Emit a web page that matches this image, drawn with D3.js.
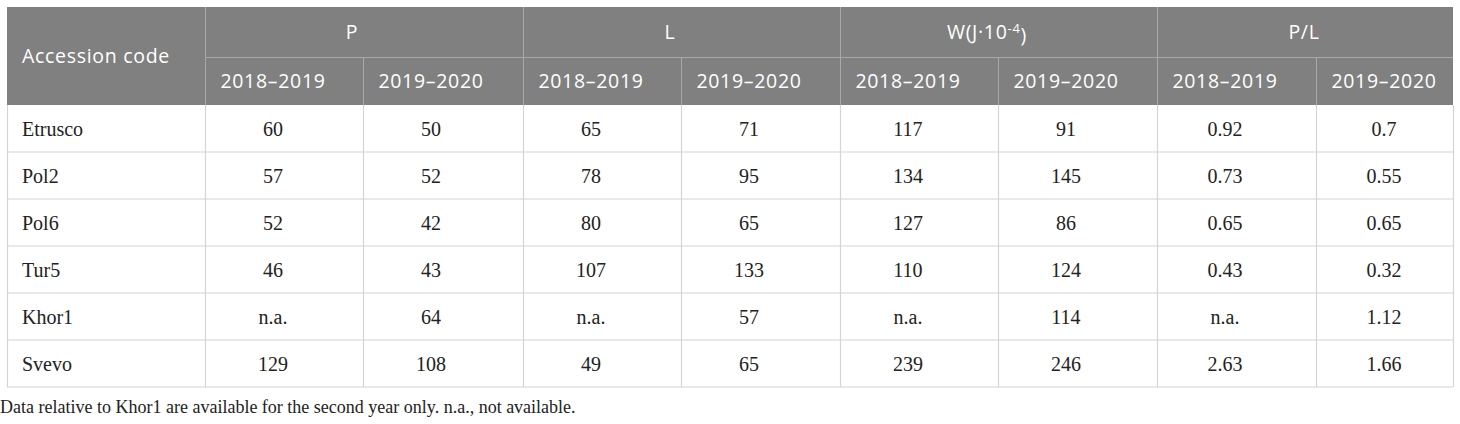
<!DOCTYPE html>
<html>
<head>
<meta charset="utf-8">
<script src="https://cdn.jsdelivr.net/npm/d3@7"></script>
<style>
  body { margin: 0; background: #fff; }
  svg text { font-kerning: normal; }
</style>
</head>
<body>
<div id="table"></div>
<script>
// table content
var accessions = ["Etrusco", "Pol2", "Pol6", "Tur5", "Khor1", "Svevo"];
var groups = ["P", "L", "W(J·10⁻⁴)", "P/L"];
var seasons = ["2018–2019", "2019–2020"];

var pValues = [["60", "50"], ["57", "52"], ["52", "42"], ["46", "43"], ["n.a.", "64"], ["129", "108"]];
var lValues = [["65", "71"], ["78", "95"], ["80", "65"], ["107", "133"], ["n.a.", "57"], ["49", "65"]];
var wValues = [["117", "91"], ["134", "145"], ["127", "86"], ["110", "124"], ["n.a.", "114"], ["239", "246"]];
var plValues = [["0.92", "0.7"], ["0.73", "0.55"], ["0.65", "0.65"], ["0.43", "0.32"], ["n.a.", "1.12"], ["2.63", "1.66"]];

var footnote = "Data relative to Khor1 are available for the second year only. n.a., not available.";

var w = 1460,
    h = 424;

// column edges (first col + 8 value columns)
var colEdges = [7, 205, 363, 523, 681, 840, 998, 1157, 1316, 1453];
var tTop = 7, head1 = 57, head2 = 105, tBottom = 387;
// text is a bit left of the cell centre in the source table
var cellMid = 68, groupMid = 147;

var svg = d3.select("#table")
	.append("svg")
	.attr("width", w)
	.attr("height", h);

var y = d3.scaleBand()
	.domain(accessions)
	.range([head2, tBottom]);

var headBg = "#808080",
    headLine = "#a8a8a8",
    bodyLine = "#d4d4d4",
    sans = "'Open Sans', 'Noto Sans', sans-serif",
    serif = "'Liberation Serif', 'Times New Roman', serif";

function headText(sel) {
	return sel.style("font-family", sans)
		.style("font-size", "19.5px")
		.style("letter-spacing", "0.7px")
		.style("fill", "#fff");
}

// header background
svg.append("rect")
	.attr("x", colEdges[0])
	.attr("y", tTop)
	.attr("width", colEdges[9] - colEdges[0])
	.attr("height", head2 - tTop)
	.style("fill", headBg);

// header lines
var hl = svg.append("g").style("stroke", headLine).style("stroke-width", 1);
hl.append("line")
	.attr("x1", colEdges[1]).attr("x2", colEdges[9])
	.attr("y1", head1 + 0.5).attr("y2", head1 + 0.5);
[1, 3, 5, 7].forEach(function(i) {
	hl.append("line")
		.attr("x1", colEdges[i] + 0.5).attr("x2", colEdges[i] + 0.5)
		.attr("y1", tTop).attr("y2", head2);
});
[2, 4, 6, 8].forEach(function(i) {
	hl.append("line")
		.attr("x1", colEdges[i] + 0.5).attr("x2", colEdges[i] + 0.5)
		.attr("y1", head1).attr("y2", head2);
});

// header text
svg.append("text")
	.attr("x", colEdges[0] + 15)
	.attr("y", (tTop + head2) / 2)
	.attr("dy", "0.35em")
	.call(headText)
	.text("Accession code");

groups.forEach(function(g, gi) {
	var x0 = colEdges[1 + gi * 2];
	var t = svg.append("text")
		.attr("x", x0 + groupMid)
		.attr("y", (tTop + head1) / 2)
		.attr("dy", "0.35em")
		.attr("text-anchor", "middle")
		.call(headText);
	if (g.indexOf("⁻⁴") >= 0) {
		t.append("tspan").text("W(J·10");
		t.append("tspan").attr("dy", "-0.45em").style("font-size", "13px").text("-4");
		t.append("tspan").attr("dy", "0.45em").text(")");
	} else {
		t.text(g);
	}
	seasons.forEach(function(s, si) {
		var a = colEdges[1 + gi * 2 + si];
		svg.append("text")
			.attr("x", a + cellMid)
			.attr("y", (head1 + head2) / 2)
			.attr("dy", "0.35em")
			.attr("text-anchor", "middle")
			.call(headText)
			.text(s);
	});
});

// body grid
var bl = svg.append("g").style("stroke", bodyLine).style("stroke-width", 1.2).style("fill", "none");
accessions.forEach(function(a) {
	bl.append("line")
		.attr("x1", colEdges[0]).attr("x2", colEdges[9])
		.attr("y1", y(a) + y.bandwidth()).attr("y2", y(a) + y.bandwidth());
});
colEdges.forEach(function(x) {
	bl.append("line")
		.attr("x1", x + 0.5).attr("x2", x + 0.5)
		.attr("y1", head2).attr("y2", tBottom);
});

// body text
var columns = [pValues, lValues, wValues, plValues];
accessions.forEach(function(a, ri) {
	svg.append("text")
		.attr("x", colEdges[0] + 15)
		.attr("y", y(a) + y.bandwidth() / 2)
		.attr("dy", "0.37em")
		.style("font-family", serif)
		.style("font-size", "20px")
		.style("fill", "#222")
		.text(a);
	columns.forEach(function(vals, gi) {
		vals[ri].forEach(function(v, si) {
			var c0 = colEdges[1 + gi * 2 + si];
			svg.append("text")
				.attr("x", c0 + cellMid)
				.attr("y", y(a) + y.bandwidth() / 2)
				.attr("dy", "0.37em")
				.attr("text-anchor", "middle")
				.style("font-family", serif)
				.style("font-size", "20px")
				.style("fill", "#222")
				.text(v);
		});
	});
});

// footnote
svg.append("text")
	.attr("x", 0)
	.attr("y", 413)
	.style("font-family", serif)
	.style("font-size", "18px")
	.style("fill", "#222")
	.text(footnote);
</script>
</body>
</html>
